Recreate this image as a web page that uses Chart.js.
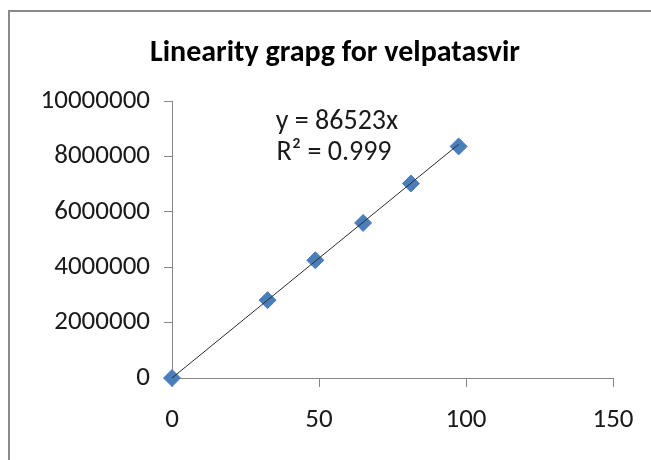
<!DOCTYPE html>
<html>
<head>
<meta charset="utf-8">
<script src="https://cdn.jsdelivr.net/npm/chart.js@4"></script>
<style>
  html, body { margin: 0; padding: 0; background: #fff; overflow: hidden; }
  #wrap { position: absolute; left: 0; top: 0; width: 651px; height: 460px; overflow: hidden; }
  #frame { position: absolute; left: 8px; top: 10px; width: 643px; height: 450px;
           border-left: 2px solid #8a8a8a; border-top: 2px solid #8a8a8a; }
  canvas { position: absolute; left: 0; top: 0; }
</style>
</head>
<body>
<div id="wrap">
  <div id="frame"></div>
  <canvas id="chart" width="651" height="460"></canvas>
</div>
<script>
const chartTitle = 'Linearity grapg for velpatasvir';
const concentrations = [0, 32.5, 48.75, 65, 81.25, 97.5];
const peakAreas = [0, 2810000, 4250000, 5600000, 7020000, 8360000];
const slope = 86523;
const equationLines = ['y = 86523x', 'R\u00b2 = 0.999'];
const xTicks = [0, 50, 100, 150];
const yTicks = [0, 2000000, 4000000, 6000000, 8000000, 10000000];

const fontFamily = 'Carlito, "Open Sans", sans-serif';
const axisColor = '#868686';
const textColor = '#1a1a1a';

const points = concentrations.map((x, i) => ({ x: x, y: peakAreas[i] }));
const xMax = Math.max(...concentrations);
const trend = [{ x: 0, y: 0 }, { x: xMax, y: slope * xMax }];

// chart title and trendline equation, placed where Excel put them
const chartTexts = {
    id: 'chartTexts',
    afterDatasetsDraw(chart) {
        const ctx = chart.ctx;
        ctx.save();
        ctx.textAlign = 'center';
        ctx.textBaseline = 'middle';
        ctx.fillStyle = '#000';
        ctx.font = 'bold 30px ' + fontFamily;
        ctx.fillText(chartTitle, 335, 53);
        ctx.fillStyle = textColor;
        ctx.font = '28px ' + fontFamily;
        ctx.fillText(equationLines[0], 337, 122);
        ctx.fillText(equationLines[1], 334, 153);
        ctx.restore();
    }
};

new Chart(document.getElementById('chart').getContext('2d'), {
    type: 'scatter',
    data: {
        datasets: [
            {
                label: 'Linear',
                data: trend,
                showLine: true,
                borderColor: '#2b2b2b',
                borderWidth: 1,
                pointRadius: 0,
                clip: false,
                order: 0
            },
            {
                label: 'velpatasvir',
                data: points,
                pointStyle: 'rectRot',
                pointRadius: 8.5,
                backgroundColor: '#4a7ebb',
                borderColor: '#4a7ebb',
                borderWidth: 1,
                clip: false,
                order: 1
            }
        ]
    },
    options: {
        responsive: false,
        animation: false,
        layout: { padding: { left: 0, right: 38, top: 101, bottom: 0 } },
        plugins: {
            legend: { display: false },
            tooltip: { enabled: false },
            title: { display: false }
        },
        scales: {
            x: {
                type: 'linear',
                min: 0,
                max: 150,
                afterBuildTicks: (scale) => { scale.ticks = xTicks.map(v => ({ value: v })); },
                afterFit: (scale) => { scale.height = 82; },
                grid: { drawOnChartArea: false, drawTicks: true, tickLength: 9, color: axisColor },
                border: { color: axisColor, width: 1 },
                ticks: { color: textColor, padding: 17, font: { family: fontFamily, size: 27 }, maxRotation: 0 }
            },
            y: {
                type: 'linear',
                min: 0,
                max: 10000000,
                afterBuildTicks: (scale) => { scale.ticks = yTicks.map(v => ({ value: v })); },
                afterFit: (scale) => { scale.width = 172; },
                grid: { drawOnChartArea: false, drawTicks: true, tickLength: 8, color: axisColor },
                border: { color: axisColor, width: 1 },
                ticks: { color: textColor, padding: 14, font: { family: fontFamily, size: 27 }, callback: v => String(v) }
            }
        }
    },
    plugins: [chartTexts]
});
</script>
</body>
</html>
